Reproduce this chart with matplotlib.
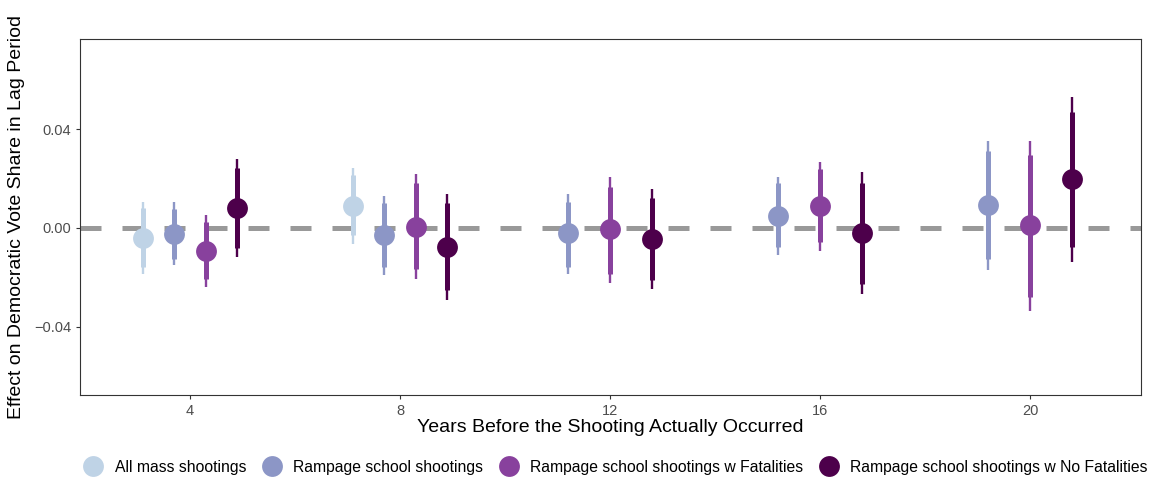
import numpy as np
import matplotlib.pyplot as plt

plt.rcParams['font.family'] = ['Liberation Sans', 'DejaVu Sans']

years = [4, 8, 12, 16, 20]
series = ["All mass shootings", "Rampage school shootings",
          "Rampage school shootings w Fatalities",
          "Rampage school shootings w No Fatalities"]
colors = ["#bfd3e6", "#8c96c6", "#88419d", "#4d004b"]

# point estimates (nan = not estimated)
est = [
    [-0.0040, 0.0089, np.nan, np.nan, np.nan],
    [-0.0024, -0.0028, -0.0021, 0.0048, 0.0093],
    [-0.0092, 0.0005, -0.0005, 0.0090, 0.0012],
    [0.0082, -0.0078, -0.0044, -0.0019, 0.0197],
]
# 90% intervals (thick)
lo90 = [
    [-0.0158, -0.0028, np.nan, np.nan, np.nan],
    [-0.0125, -0.0159, -0.0156, -0.0078, -0.0127],
    [-0.0206, -0.0167, -0.0186, -0.0055, -0.0278],
    [-0.0080, -0.0250, -0.0210, -0.0226, -0.0078],
]
hi90 = [
    [0.0080, 0.0214, np.nan, np.nan, np.nan],
    [0.0077, 0.0100, 0.0107, 0.0180, 0.0312],
    [0.0026, 0.0180, 0.0167, 0.0237, 0.0295],
    [0.0241, 0.0100, 0.0120, 0.0183, 0.0470],
]
# 95% intervals (thin)
lo95 = [
    [-0.0186, -0.0065, np.nan, np.nan, np.nan],
    [-0.0150, -0.0190, -0.0186, -0.0109, -0.0170],
    [-0.0237, -0.0207, -0.0221, -0.0092, -0.0334],
    [-0.0116, -0.0290, -0.0246, -0.0267, -0.0136],
]
hi95 = [
    [0.0105, 0.0241, np.nan, np.nan, np.nan],
    [0.0105, 0.0130, 0.0137, 0.0205, 0.0353],
    [0.0053, 0.0218, 0.0205, 0.0268, 0.0353],
    [0.0278, 0.0137, 0.0156, 0.0225, 0.0528],
]

dodge = 2.4

est = np.array(est)
# dodge positions: only series present at a given year share the width
xpos = np.full(est.shape, np.nan)
for j, yr in enumerate(years):
    present = [i for i in range(len(series)) if not np.isnan(est[i, j])]
    n = len(present)
    for k, i in enumerate(present):
        xpos[i, j] = yr + (k - (n - 1) / 2) * dodge / n

fig = plt.figure(figsize=(11.54, 4.79), dpi=100)
ax = fig.add_axes([0.0693, 0.1754, 0.9194, 0.7432])

ax.axhline(0, color="#999999", lw=3.6, dashes=(4.2, 4.2), zorder=1)

for i, name in enumerate(series):
    xs = xpos[i]
    ax.vlines(xs, lo95[i], hi95[i], color=colors[i], lw=1.7, zorder=2)
    ax.vlines(xs, lo90[i], hi90[i], color=colors[i], lw=3.6, zorder=2)
    ax.plot(xs, est[i], "o", ms=15, color=colors[i], mec="none",
            zorder=3, label=name)

ax.set_xlim(1.905, 22.11)
ax.set_ylim(-0.0675, 0.0764)
ax.set_xticks(years)
ax.set_yticks([-0.04, 0.0, 0.04])
ax.set_yticklabels(["\u22120.04", "0.00", "0.04"])
ax.tick_params(colors="#333333", labelcolor="#4d4d4d", labelsize=10.5,
               length=3, width=0.8)
for s in ax.spines.values():
    s.set_color("#333333")
    s.set_linewidth(0.8)

ax.set_xlabel("Years Before the Shooting Actually Occurred", fontsize=14,
              labelpad=1)
ax.set_ylabel("Effect on Democratic Vote Share in Lag Period", fontsize=14,
              labelpad=6)

fig.legend(loc="center left", bbox_to_anchor=(0.066, 0.025), ncol=4,
           frameon=False, fontsize=11.3, handletextpad=0.75,
           columnspacing=1.05, handlelength=1.2, borderpad=0)

fig.savefig("out.png", dpi=100)
